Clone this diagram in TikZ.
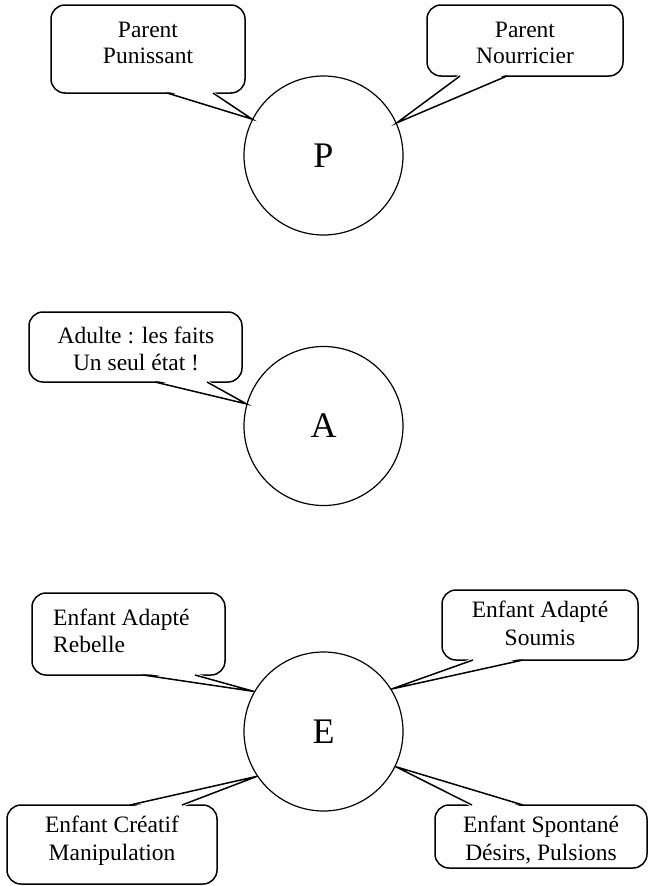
\documentclass[tikz,border=0pt]{standalone}
\usepackage{fontspec}
\setmainfont{Liberation Serif}
% speech box: #1 left, #2 top, #3 right, #4 bottom,
% #5/#6 tail base x, #7 y of the edge carrying the tail,
% #8 inward shift for the mask, #9 tail tip
\newcommand\speechbox[9]{%
  \draw[bubble,rounded corners=14] (#1,#2) rectangle (#3,#4);
  \fill[white] (#5,#7+#8) -- (#9) -- (#6,#7+#8) -- cycle;
  \draw[bubble] (#5,#7) -- (#9) -- (#6,#7);
}
\begin{document}
\begin{tikzpicture}[x=1pt,y=-1pt,
  ego/.style={circle,draw,line width=1.2pt,minimum size=159pt,inner sep=0pt,
    font=\fontsize{36}{40}\selectfont},
  bubble/.style={draw,line width=1.5pt,line join=miter},
  lbl/.style={anchor=base,inner sep=0pt,font=\fontsize{23.5}{27}\selectfont},
  lblw/.style={lbl,anchor=base west}]
\useasboundingbox (0,0) rectangle (649,886);

% ego states
\node[ego] (P) at (323.5,155.5) {P};
\node[ego] (A) at (323.5,426) {A};
\node[ego] (E) at (323.5,731.5) {E};

% Parent Punissant
\speechbox{51}{5}{245}{93}{167}{213}{93}{-2}{P.153}
\node[lbl] (pp1) at (148,37) {Parent};
\node[lbl] (pp2) at (148,63) {Punissant};

% Parent Nourricier
\speechbox{427}{5}{623}{76}{460}{507}{76}{-2}{P.24}
\node[lbl] (pn1) at (525,37) {Parent};
\node[lbl] (pn2) at (525,63) {Nourricier};

% Adulte
\speechbox{29}{312}{242}{382}{155}{207}{382}{-2}{A.164}
\node[lbl] (ad1) at (136,343) {Adulte : les faits};
\node[lbl] (ad2) at (136,370) {Un seul état !};

% Enfant Adapté Rebelle
\speechbox{32}{593}{225}{675}{143}{195}{675}{-2}{E.150}
\node[lblw] (er1) at (53,625) {Enfant Adapté};
\node[lblw] (er2) at (53,652) {Rebelle};

% Enfant Adapté Soumis
\speechbox{442}{590}{638}{660}{473}{523}{660}{-2}{E.32}
\node[lbl] (es1) at (540,617) {Enfant Adapté};
\node[lbl] (es2) at (540,645) {Soumis};

% Enfant Créatif
\speechbox{7}{805}{217}{884}{130}{182}{805}{2}{E.214}
\node[lbl] (ec1) at (112,832) {Enfant Créatif};
\node[lbl] (ec2) at (112,860) {Manipulation};

% Enfant Spontané
\speechbox{435}{805}{647}{868}{472}{523}{805}{2}{E.334}
\node[lbl] (sp1) at (541,832) {Enfant Spontané};
\node[lbl] (sp2) at (541,860) {Désirs, Pulsions};
\end{tikzpicture}
\end{document}
